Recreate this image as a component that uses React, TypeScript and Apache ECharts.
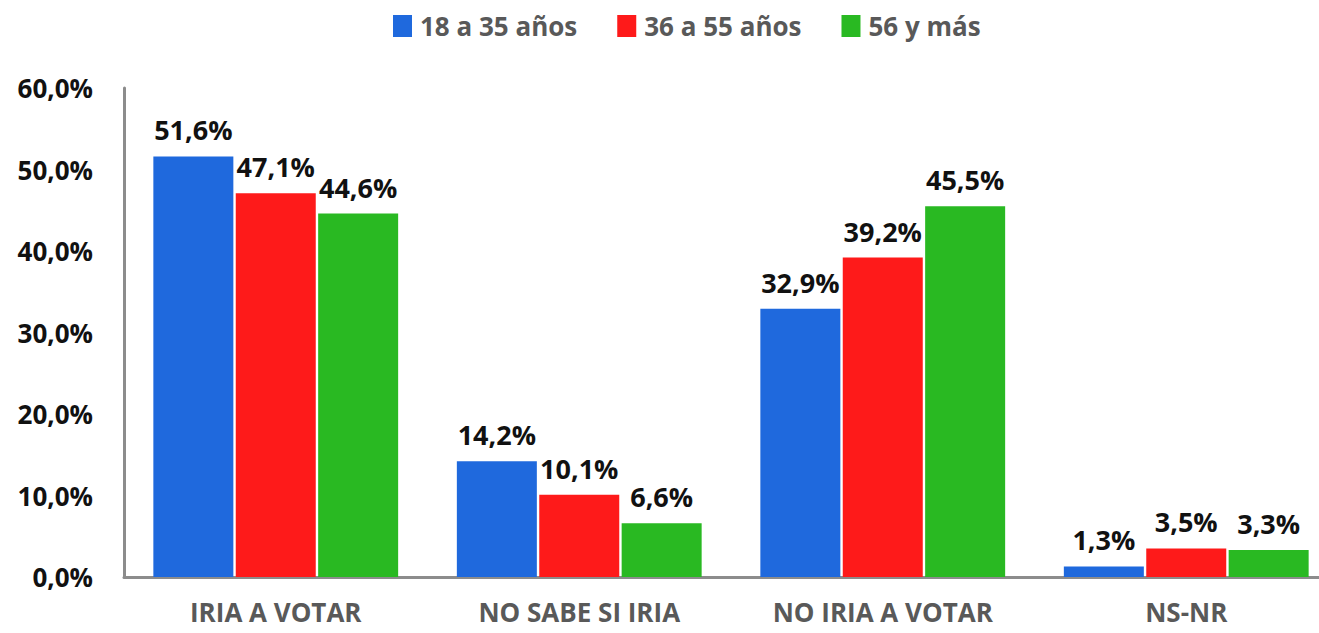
import React, { useEffect, useRef } from "react";
import * as echarts from "echarts";

const categories = ["IRIA A VOTAR", "NO SABE SI IRIA", "NO IRIA A VOTAR", "NS-NR"];
const seriesNames = ["18 a 35 años", "36 a 55 años", "56 y más"];
const young = [51.6, 14.2, 32.9, 1.3];
const middle = [47.1, 10.1, 39.2, 3.5];
const older = [44.6, 6.6, 45.5, 3.3];
const colors = ["#1f69dd", "#fe1a1a", "#29b922"];

const fmt = (v: number) => v.toFixed(1).replace(".", ",") + "%";
const FONT = "'Open Sans', Lato, sans-serif";

export default function App() {
  const ref = useRef<HTMLDivElement>(null);
  useEffect(() => {
    const chart = echarts.init(ref.current!, undefined, { renderer: "svg" });
    const data = [young, middle, older];
    chart.setOption({
      animation: false,
      backgroundColor: "#ffffff",
      textStyle: { fontFamily: FONT },
      legend: {
        top: 8,
        left: 388,
        icon: "rect",
        itemWidth: 19,
        itemHeight: 22,
        itemGap: 40,
        textStyle: { fontSize: 26, fontWeight: "bold", color: "#595959", fontFamily: FONT, padding: [0, 0, 0, 3] },
        data: seriesNames,
      },
      grid: { left: 124, top: 88, width: 1214, height: 489, containLabel: false },
      xAxis: {
        type: "category",
        data: categories,
        axisLine: { lineStyle: { color: "#8c8c8c", width: 3 } },
        axisTick: { show: false },
        axisLabel: { fontSize: 26, fontWeight: "bold", color: "#595959", margin: 22, fontFamily: FONT },
      },
      yAxis: {
        type: "value",
        min: 0,
        max: 60,
        interval: 10,
        splitLine: { show: false },
        axisLine: { show: true, lineStyle: { color: "#8c8c8c", width: 3 } },
        axisTick: { show: false },
        axisLabel: {
          formatter: (v: number) => fmt(v),
          fontSize: 26,
          fontWeight: "bold",
          color: "#111111",
          margin: 31,
          fontFamily: FONT,
        },
      },
      series: seriesNames.map((name, i) => ({
        name,
        type: "bar",
        data: data[i],
        barWidth: 80,
        barGap: "3%",
        itemStyle: { color: colors[i] },
        label: {
          show: true,
          position: "top",
          distance: 13,
          formatter: (p: any) => fmt(p.value),
          fontSize: 27,
          fontWeight: "bold",
          color: "#111111",
          fontFamily: FONT,
        },
      })),
    });
    return () => chart.dispose();
  }, []);
  return (
    <div style={{ position: "absolute", left: 0, top: 0, width: 1319, height: 633, overflow: "hidden", background: "#fff" }}>
      <div ref={ref} style={{ width: 1345, height: 633 }} />
    </div>
  );
}
